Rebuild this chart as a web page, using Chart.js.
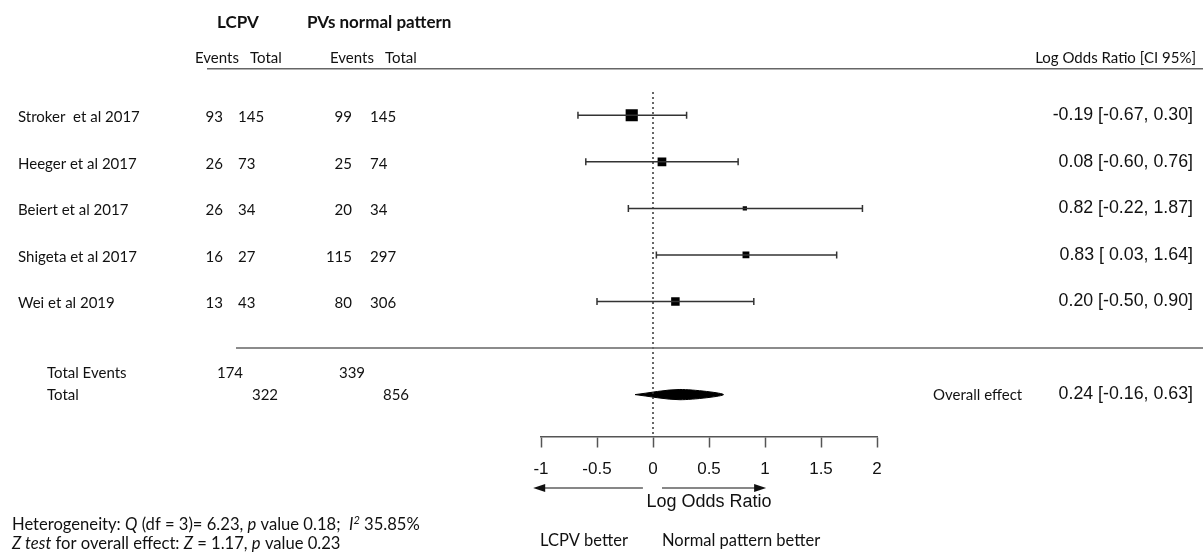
<!DOCTYPE html>
<html>
<head>
<meta charset="utf-8">
<script src="https://cdn.jsdelivr.net/npm/chart.js@4.4.1/dist/chart.umd.min.js"></script>
<style>
  html, body { margin: 0; padding: 0; background: #fff; }
  canvas { display: block; }
</style>
</head>
<body>
<canvas id="forest" width="1203" height="557"></canvas>
<script>
// study data
const studies = ['Stroker  et al 2017', 'Heeger et al 2017', 'Beiert et al 2017', 'Shigeta et al 2017', 'Wei et al 2019'];
const lcpvEvents = [93, 26, 26, 16, 13];
const lcpvTotal = [145, 73, 34, 27, 43];
const normalEvents = [99, 25, 20, 115, 80];
const normalTotal = [145, 74, 34, 297, 306];
const logOR = [-0.19, 0.08, 0.82, 0.83, 0.20];
const ciLow = [-0.67, -0.60, -0.22, 0.03, -0.50];
const ciHigh = [0.30, 0.76, 1.87, 1.64, 0.90];
const weights = [41, 21, 5, 13, 20];

const overallLogOR = 0.24;
const overallLow = -0.16;
const overallHigh = 0.63;
const totalEvents = [174, 339];
const totalPatients = [322, 856];

const xTicks = [-1, -0.5, 0, 0.5, 1, 1.5, 2];

const fontA = '"Liberation Sans", Arial, sans-serif';
const fontC = 'Lato, "Open Sans", sans-serif';
const overallRow = studies.length + 1;

function fmt(v) {
    return v.toFixed(2);
}
function fmtLow(v) {
    return v < 0 ? v.toFixed(2) : ' ' + v.toFixed(2);
}

const datasets = [];

// zero line
datasets.push({
    type: 'line',
    data: [{x: 0, y: -0.5}, {x: 0, y: overallRow + 0.9}],
    borderColor: '#333',
    borderWidth: 1.5,
    borderDash: [2, 3],
    pointRadius: 0
});

// confidence intervals with end caps
studies.forEach(function(name, i) {
    datasets.push({
        type: 'line',
        data: [{x: ciLow[i], y: i}, {x: ciHigh[i], y: i}],
        borderColor: '#333',
        borderWidth: 1.5,
        pointStyle: 'line',
        rotation: 90,
        pointRadius: 3.5,
        pointBorderWidth: 1.5,
        pointBorderColor: '#333'
    });
});

// study estimates, square size from weight
datasets.push({
    type: 'scatter',
    data: logOR.map(function(v, i) { return {x: v, y: i}; }),
    pointStyle: 'rect',
    pointRadius: weights.map(function(w) { return 1.9 * Math.sqrt(w) / Math.SQRT2; }),
    backgroundColor: '#000',
    borderColor: '#000',
    borderWidth: 0
});

// overall diamond
datasets.push({
    type: 'line',
    data: [
        {x: overallLow, y: overallRow},
        {x: overallLogOR, y: overallRow - 0.11},
        {x: overallHigh, y: overallRow},
        {x: overallLogOR, y: overallRow + 0.11},
        {x: overallLow, y: overallRow}
    ],
    borderColor: '#000',
    borderWidth: 1,
    backgroundColor: '#000',
    fill: 'shape',
    tension: 0.3,
    pointRadius: 0
});

function richLine(ctx, parts, x, y) {
    parts.forEach(function(p) {
        ctx.font = p[1];
        const dy = p[2] || 0;
        ctx.fillText(p[0], x, y + dy);
        x += ctx.measureText(p[0]).width;
    });
}

const tablePlugin = {
    id: 'tablePlugin',
    afterDraw: function(chart) {
        const ctx = chart.ctx;
        const xs = chart.scales.x;
        const ys = chart.scales.y;
        ctx.save();
        ctx.fillStyle = '#111';
        ctx.textBaseline = 'middle';

        // headers
        ctx.font = 'bold 17px ' + fontC;
        ctx.textAlign = 'left';
        ctx.fillText('LCPV', 217, 23);
        ctx.fillText('PVs normal pattern', 307, 23);
        ctx.font = '15px ' + fontC;
        const hy = ys.getPixelForValue(-1.22);
        ctx.fillText('Events', 195, hy);
        ctx.fillText('Total', 250, hy);
        ctx.fillText('Events', 330, hy);
        ctx.fillText('Total', 385, hy);
        ctx.textAlign = 'right';
        ctx.fillText('Log Odds Ratio [CI 95%]', 1196, hy);

        // rules
        ctx.strokeStyle = '#666';
        ctx.lineWidth = 1.5;
        ctx.beginPath();
        const l1 = ys.getPixelForValue(-1);
        ctx.moveTo(207, l1);
        ctx.lineTo(1203, l1);
        const l2 = ys.getPixelForValue(studies.length);
        ctx.moveTo(236, l2);
        ctx.lineTo(1203, l2);
        ctx.stroke();

        // study rows
        studies.forEach(function(name, i) {
            const y = ys.getPixelForValue(i) + 2;
            ctx.font = '15px ' + fontC;
            ctx.textAlign = 'left';
            ctx.fillText(name, 18, y);
            ctx.textAlign = 'right';
            ctx.fillText(String(lcpvEvents[i]), 223, y);
            ctx.fillText(String(normalEvents[i]), 352, y);
            ctx.textAlign = 'left';
            ctx.fillText(String(lcpvTotal[i]), 238, y);
            ctx.fillText(String(normalTotal[i]), 370, y);
            ctx.font = '17.8px ' + fontA;
            ctx.textAlign = 'right';
            ctx.fillText(fmt(logOR[i]) + ' [' + fmtLow(ciLow[i]) + ', ' + fmt(ciHigh[i]) + ']', 1193, y - 2);
        });

        // totals
        ctx.font = '15px ' + fontC;
        ctx.textAlign = 'left';
        const te = ys.getPixelForValue(overallRow - 0.45);
        const tt = ys.getPixelForValue(overallRow) + 1;
        ctx.fillText('Total Events', 47, te);
        ctx.fillText('Total', 47, tt);
        ctx.textAlign = 'center';
        ctx.fillText(String(totalEvents[0]), 230, te);
        ctx.fillText(String(totalEvents[1]), 352, te);
        ctx.fillText(String(totalPatients[0]), 265, tt);
        ctx.fillText(String(totalPatients[1]), 396, tt);
        ctx.textAlign = 'left';
        ctx.fillText('Overall effect', 933, tt);
        ctx.font = '17.8px ' + fontA;
        ctx.textAlign = 'right';
        ctx.fillText(fmt(overallLogOR) + ' [' + fmtLow(overallLow) + ', ' + fmt(overallHigh) + ']', 1193, tt - 1);

        // direction arrows under the axis
        const ay = 488;
        const arrows = [[-0.09, -1.07], [0.08, 1.01]];
        ctx.strokeStyle = '#111';
        ctx.fillStyle = '#111';
        ctx.lineWidth = 1.2;
        arrows.forEach(function(a) {
            const x0 = xs.getPixelForValue(a[0]);
            const x1 = xs.getPixelForValue(a[1]);
            const dir = x1 > x0 ? 1 : -1;
            ctx.beginPath();
            ctx.moveTo(x0, ay);
            ctx.lineTo(x1 - dir * 8, ay);
            ctx.stroke();
            ctx.beginPath();
            ctx.moveTo(x1, ay);
            ctx.lineTo(x1 - dir * 12, ay - 4);
            ctx.lineTo(x1 - dir * 12, ay + 4);
            ctx.closePath();
            ctx.fill();
        });
        ctx.font = '18px ' + fontA;
        ctx.textAlign = 'center';
        ctx.fillText('Log Odds Ratio', xs.getPixelForValue(0.5), 502);

        ctx.font = '16.5px ' + fontC;
        ctx.textAlign = 'left';
        ctx.fillText('LCPV better', 540, 541);
        ctx.fillText('Normal pattern better', 662, 541);

        // heterogeneity notes
        const n = '16.6px ' + fontC;
        const it = 'italic 16.6px ' + fontC;
        const sup = 'italic 11px ' + fontC;
        richLine(ctx, [['Heterogeneity: ', n], ['Q', it], [' (df = 3)= 6.23, ', n], ['p', it], [' value 0.18;  ', n],
            ['I', it], ['2', sup, -5], [' 35.85%', n]], 12, 525);
        richLine(ctx, [['Z test', it], [' for overall effect: ', n], ['Z', it], [' = 1.17, ', n], ['p', it],
            [' value 0.23', n]], 12, 544);
        ctx.restore();
    }
};

new Chart(document.getElementById('forest'), {
    type: 'scatter',
    data: { datasets: datasets },
    options: {
        responsive: false,
        animation: false,
        layout: {
            padding: { left: 541, right: 326, top: 92, bottom: 80.5 }
        },
        plugins: {
            legend: { display: false },
            tooltip: { enabled: false }
        },
        scales: {
            x: {
                type: 'linear',
                min: -1,
                max: 2,
                afterBuildTicks: function(scale) {
                    scale.ticks = xTicks.map(function(v) { return {value: v}; });
                },
                afterFit: function(scale) {
                    scale.height = 40;
                },
                grid: {
                    drawOnChartArea: false,
                    drawTicks: true,
                    tickLength: 11,
                    tickWidth: 1.5,
                    tickColor: '#555'
                },
                border: { display: true, color: '#555', width: 1.5 },
                ticks: {
                    padding: 12,
                    color: '#111',
                    maxRotation: 0,
                    font: { family: fontA, size: 17 },
                    callback: function(v) { return String(v); }
                }
            },
            y: {
                type: 'linear',
                display: false,
                reverse: true,
                min: -0.5,
                max: overallRow + 0.9
            }
        }
    },
    plugins: [tablePlugin]
});
</script>
</body>
</html>
